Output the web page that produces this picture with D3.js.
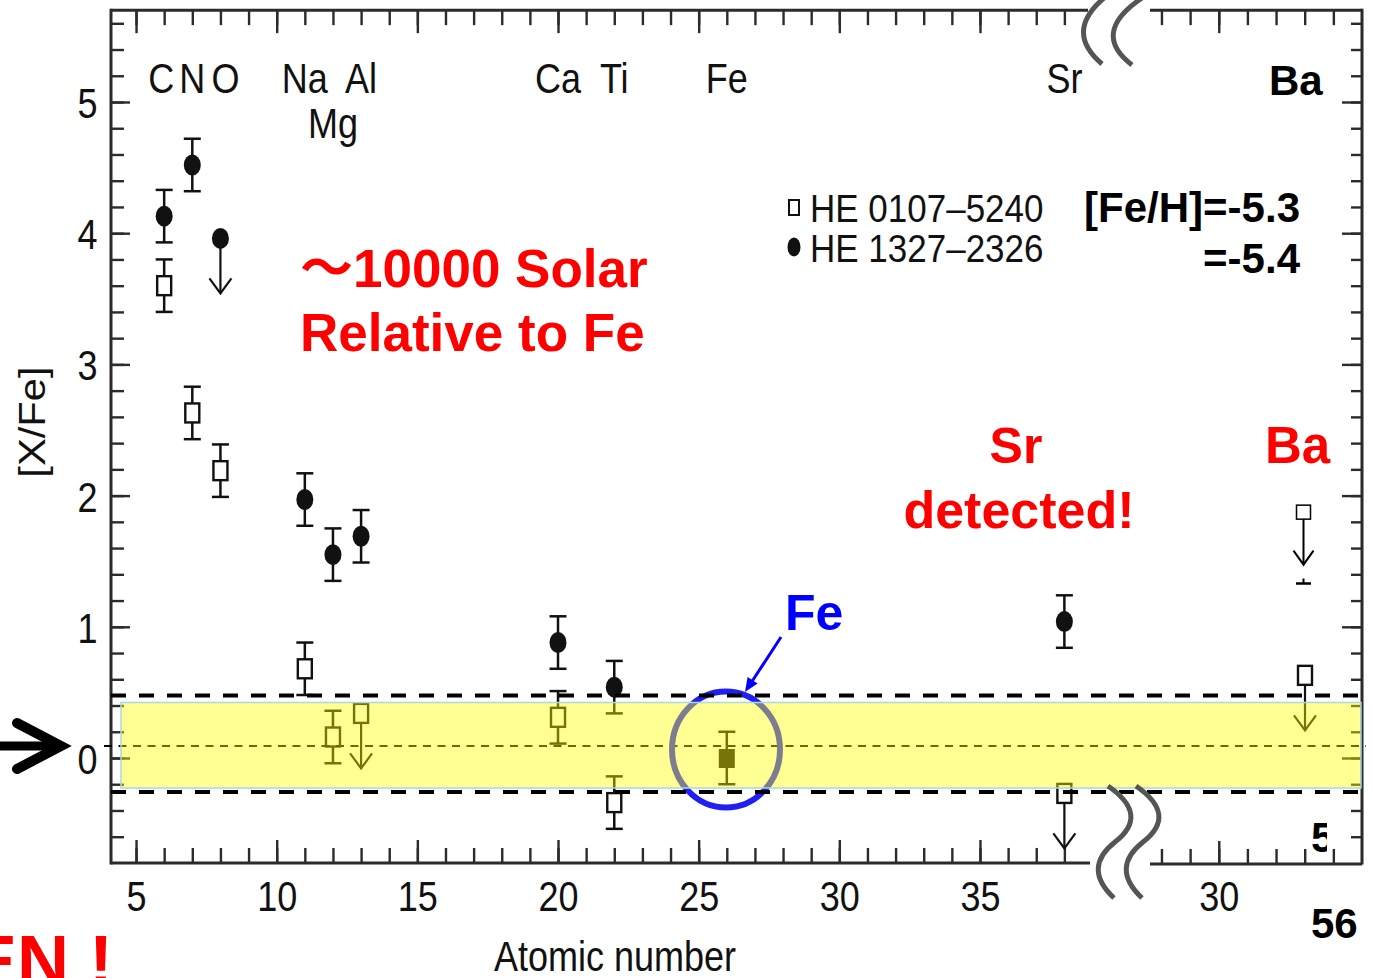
<!DOCTYPE html>
<html>
<head>
<meta charset="utf-8">
<script src="https://cdn.jsdelivr.net/npm/d3@7"></script>
<style>
  html, body { margin: 0; padding: 0; background: #fff; }
  svg { display: block; }
</style>
</head>
<body>
<svg id="chart" width="1373" height="978"></svg>
<script>
// ---- Abundance pattern data ([X/Fe] vs atomic number) ----

// element labels along the top of the frame
const labelNames = ["C", "N", "O", "Na", "Mg", "Al", "Ca", "Ti", "Fe", "Sr"];
const labelZ     = [6, 7, 8, 11, 12, 13, 20, 22, 26, 38];
const labelRow   = [0, 0, 0, 0, 1, 0, 0, 0, 0, 0];

// HE 0107-5240 (open squares)
const he0107Z     = [6, 7, 8, 11, 12, 13, 20, 22, 38, 56];
const he0107Value = [3.60, 2.63, 2.19, 0.68, 0.16, 0.34, 0.31, -0.34, -0.27, 0.63];
const he0107Err   = [0.2, 0.2, 0.2, 0.2, 0.2, 0, 0.2, 0.2, 0, 0];
const he0107Limit = [false, false, false, false, false, true, false, false, true, true];

// HE 1327-2326 (filled circles)
const he1327Z     = [6, 7, 8, 11, 12, 13, 20, 22, 38];
const he1327Value = [4.13, 4.52, 3.96, 1.97, 1.55, 1.69, 0.88, 0.54, 1.04];
const he1327Err   = [0.2, 0.2, 0, 0.2, 0.2, 0.2, 0.2, 0.2, 0.2];
const he1327Limit = [false, false, true, false, false, false, false, false, false];

// iron reference point
const feZ = [26];
const feValue = [0.0];
const feErr = [0.2];

// second Ba upper limit and the lower cap of its bar
const baExtraZ = [56];
const baExtraValue = [1.87];
const baExtraCap = [1.33];

// axis ticks
const xMinorTicks = d3.range(5, 39);
const xMajorTicks = [5, 10, 15, 20, 25, 30, 35];
const yMinorTicks = d3.range(-3, 29).map(i => +(i * 0.2).toFixed(1));
const yMajorTicks = [0, 1, 2, 3, 4, 5];
const breakMinorTicks = [28, 29, 30, 31, 32, 33, 34];
const breakMajorTicks = [30];

// ---- scales ----
const xL = d3.scaleLinear().domain([4.11, 38.84]).range([111, 1088]);
const xR = d3.scaleLinear().domain([27.6, 35]).range([1150, 1362]);
const xBa = d3.scaleLinear().domain([55, 57]).range([1276.5, 1333.5]);
const y = d3.scaleLinear().domain([0, 5]).range([758, 102]);
const xOf = z => (z > 40 ? xBa(z) : xL(z));

const X0 = 111, X1 = 1362, Y0 = y(5.7), Y1 = y(-0.8);

const svg = d3.select("#chart");
const ink = "#111";
const axisInk = "#2b2b2b";
const FIG_FONT = "'Liberation Sans', Arial, Helvetica, sans-serif";
const SLIDE_FONT = "'Liberation Sans', Arial, 'Noto Sans CJK JP', sans-serif";
const STRETCH = "scale(1,1.16)";

svg.append("rect").attr("width", 1373).attr("height", 978).attr("fill", "#fff");

// ---- axes ----
function tidy(g, width) {
  g.select(".domain").remove();
  g.selectAll(".tick line").attr("stroke", axisInk).attr("stroke-width", width || 2.4);
  return g;
}

// bottom (left part)
svg.append("g").attr("transform", `translate(0,${Y1})`)
  .call(d3.axisTop(xL).tickValues(xMinorTicks).tickSize(15).tickFormat(""))
  .call(tidy);
const xAxisMain = svg.append("g").attr("transform", `translate(0,${Y1})`)
  .call(d3.axisTop(xL).tickValues(xMajorTicks).tickSize(23).tickFormat(d3.format("d")))
  .call(tidy);
xAxisMain.selectAll(".tick text")
  .attr("y", 0).attr("dy", 0)
  .attr("transform", `translate(0,48) ${STRETCH}`)
  .attr("text-anchor", "middle")
  .attr("fill", ink).attr("font-size", 36).attr("font-family", FIG_FONT);

// top (left part)
svg.append("g").attr("transform", `translate(0,${Y0})`)
  .call(d3.axisBottom(xL).tickValues(xMinorTicks).tickSize(15).tickFormat(""))
  .call(tidy);
svg.append("g").attr("transform", `translate(0,${Y0})`)
  .call(d3.axisBottom(xL).tickValues(xMajorTicks.filter(v => v < 38)).tickSize(23).tickFormat(""))
  .call(tidy);

// bottom and top (right part, after the break)
svg.append("g").attr("transform", `translate(0,${Y1 + 1})`)
  .call(d3.axisTop(xR).tickValues(breakMinorTicks).tickSize(15).tickFormat(""))
  .call(tidy);
const xAxisBreak = svg.append("g").attr("transform", `translate(0,${Y1 + 1})`)
  .call(d3.axisTop(xR).tickValues(breakMajorTicks).tickSize(23).tickFormat(d3.format("d")))
  .call(tidy);
xAxisBreak.selectAll(".tick text")
  .attr("y", 0).attr("dy", 0)
  .attr("transform", `translate(0,47) ${STRETCH}`)
  .attr("text-anchor", "middle")
  .attr("fill", ink).attr("font-size", 36).attr("font-family", FIG_FONT);
svg.append("g").attr("transform", `translate(0,${Y0})`)
  .call(d3.axisBottom(xR).tickValues(breakMinorTicks).tickSize(15).tickFormat(""))
  .call(tidy);
svg.append("g").attr("transform", `translate(0,${Y0})`)
  .call(d3.axisBottom(xR).tickValues(breakMajorTicks).tickSize(23).tickFormat(""))
  .call(tidy);

// left
svg.append("g").attr("transform", `translate(${X0},0)`)
  .call(d3.axisRight(y).tickValues(yMinorTicks).tickSize(13).tickFormat(""))
  .call(tidy);
const yAxisMain = svg.append("g").attr("transform", `translate(${X0},0)`)
  .call(d3.axisRight(y).tickValues(yMajorTicks).tickSize(19).tickFormat(d3.format("d")))
  .call(tidy);
yAxisMain.selectAll(".tick text")
  .attr("x", 0).attr("dy", 0)
  .attr("transform", `translate(-13.5,15.5) ${STRETCH}`)
  .attr("text-anchor", "end")
  .attr("fill", ink).attr("font-size", 36).attr("font-family", FIG_FONT);

// right
svg.append("g").attr("transform", `translate(${X1},0)`)
  .call(d3.axisLeft(y).tickValues(yMinorTicks).tickSize(11).tickFormat(""))
  .call(tidy);
svg.append("g").attr("transform", `translate(${X1},0)`)
  .call(d3.axisLeft(y).tickValues(yMajorTicks).tickSize(20).tickFormat(""))
  .call(tidy);

// frame, interrupted at the axis break
const frame = svg.append("g").attr("stroke", axisInk).attr("stroke-width", 3).attr("fill", "none");
frame.append("line").attr("x1", X0).attr("x2", X0).attr("y1", Y0 - 1.5).attr("y2", Y1 + 1.5);
frame.append("line").attr("x1", X1).attr("x2", X1).attr("y1", Y0 - 1.5).attr("y2", Y1 + 1.5);
frame.append("line").attr("x1", X0).attr("x2", 1088).attr("y1", Y0).attr("y2", Y0);
frame.append("line").attr("x1", 1150).attr("x2", X1).attr("y1", Y0).attr("y2", Y0);
frame.append("line").attr("x1", X0).attr("x2", 1090).attr("y1", Y1).attr("y2", Y1);
frame.append("line").attr("x1", 1150).attr("x2", X1).attr("y1", Y1 + 1).attr("y2", Y1 + 1);

// axis titles
svg.append("text")
  .attr("transform", `translate(615,971) ${STRETCH}`)
  .attr("text-anchor", "middle").attr("fill", ink)
  .attr("font-size", 36).attr("font-family", FIG_FONT)
  .text("Atomic number");
svg.append("text")
  .attr("transform", `translate(44.5,422) ${STRETCH} rotate(-90)`)
  .attr("text-anchor", "middle").attr("fill", ink)
  .attr("font-size", 36).attr("font-family", FIG_FONT)
  .text("[X/Fe]");

// element labels (C and O sit slightly outward of their columns)
const labelShift = { C: -3, O: 5 };
svg.append("g").selectAll("text")
  .data(labelNames)
  .join("text")
  .attr("transform", (d, i) =>
    `translate(${xL(labelZ[i]) + (labelShift[d] || 0)},${labelRow[i] ? 138 : 93}) ${STRETCH}`)
  .attr("text-anchor", "middle").attr("fill", ink)
  .attr("font-size", 36).attr("font-family", FIG_FONT)
  .text(d => d);

// legend
const legend = svg.append("g");
legend.append("rect").attr("x", 789).attr("y", 200).attr("width", 10).attr("height", 15)
  .attr("fill", "#fff").attr("stroke", ink).attr("stroke-width", 2);
legend.append("ellipse").attr("cx", 794).attr("cy", 247).attr("rx", 6.5).attr("ry", 9.5).attr("fill", ink);
legend.selectAll("text")
  .data(["HE 0107\u20135240", "HE 1327\u20132326"])
  .join("text")
  .attr("transform", (d, i) => `translate(810,${i ? 262 : 222}) scale(1,1.1)`)
  .attr("fill", ink).attr("font-size", 35).attr("font-family", FIG_FONT)
  .text(d => d);

// ---- data marks ----
const LIMIT_LEN = 55, CAP = 8.5;
const openPts = he0107Z.map((z, i) => ({ z, v: he0107Value[i], e: he0107Err[i], lim: he0107Limit[i] }));
const filledPts = he1327Z.map((z, i) => ({ z, v: he1327Value[i], e: he1327Err[i], lim: he1327Limit[i] }));
const fePts = feZ.map((z, i) => ({ z, v: feValue[i], e: feErr[i], lim: false }));

const marks = svg.append("g").attr("stroke", ink).attr("fill", "none");

function drawBars(pts) {
  const bars = pts.filter(d => d.e > 0);
  const gb = marks.append("g").attr("stroke-width", 2.5);
  gb.selectAll(".stem").data(bars).join("line")
    .attr("x1", d => xOf(d.z)).attr("x2", d => xOf(d.z))
    .attr("y1", d => y(d.v + d.e)).attr("y2", d => y(d.v - d.e));
  gb.selectAll(".capT").data(bars).join("line").attr("class", "capT")
    .attr("x1", d => xOf(d.z) - CAP).attr("x2", d => xOf(d.z) + CAP)
    .attr("y1", d => y(d.v + d.e)).attr("y2", d => y(d.v + d.e));
  gb.selectAll(".capB").data(bars).join("line").attr("class", "capB")
    .attr("x1", d => xOf(d.z) - CAP).attr("x2", d => xOf(d.z) + CAP)
    .attr("y1", d => y(d.v - d.e)).attr("y2", d => y(d.v - d.e));

  const lims = pts.filter(d => d.lim);
  const gl = marks.append("g").attr("stroke-width", 2.2).attr("stroke-linejoin", "miter");
  gl.selectAll("line").data(lims).join("line")
    .attr("x1", d => xOf(d.z)).attr("x2", d => xOf(d.z))
    .attr("y1", d => y(d.v)).attr("y2", d => y(d.v) + LIMIT_LEN);
  gl.selectAll("path").data(lims).join("path")
    .attr("d", d => {
      const x = xOf(d.z), t = y(d.v) + LIMIT_LEN;
      return `M${x - 11},${t - 15} L${x},${t} L${x + 11},${t - 15}`;
    });
}
drawBars(openPts);
drawBars(filledPts);
drawBars(fePts);

marks.append("g").selectAll("rect").data(openPts).join("rect")
  .attr("x", d => xOf(d.z) - 7).attr("y", d => y(d.v) - 9.5)
  .attr("width", 14).attr("height", 19)
  .attr("fill", "#fff").attr("stroke-width", 2.4);
marks.append("g").selectAll("ellipse").data(filledPts).join("ellipse")
  .attr("cx", d => xOf(d.z)).attr("cy", d => y(d.v))
  .attr("rx", 8.5).attr("ry", 10.5).attr("fill", ink).attr("stroke", "none");
marks.append("g").selectAll("rect").data(fePts).join("rect")
  .attr("x", d => xOf(d.z) - 8).attr("y", d => y(d.v) - 9)
  .attr("width", 16).attr("height", 19).attr("fill", ink).attr("stroke", "none");

// second Ba upper limit
const baG = marks.append("g").attr("stroke", "#000");
baExtraZ.forEach((z, i) => {
  const x = xOf(z) - 1.5, yy = y(baExtraValue[i]), tip = yy + 52, cap = y(baExtraCap[i]);
  baG.append("line").attr("x1", x).attr("x2", x).attr("y1", yy).attr("y2", tip).attr("stroke-width", 2);
  baG.append("path").attr("d", `M${x - 10},${tip - 14} L${x},${tip} L${x + 10},${tip - 14}`).attr("stroke-width", 2);
  baG.append("rect").attr("x", x - 7).attr("y", yy - 7.5).attr("width", 14).attr("height", 14)
    .attr("fill", "#fff").attr("stroke-width", 1.5);
  baG.append("line").attr("x1", x - 7.5).attr("x2", x + 7.5).attr("y1", cap).attr("y2", cap).attr("stroke-width", 2.5);
  baG.append("line").attr("x1", x).attr("x2", x).attr("y1", cap - 5).attr("y2", cap).attr("stroke-width", 2);
});

// ---- overlay annotations ----
// dashed zero guide
svg.append("line").attr("x1", 104).attr("x2", 1366).attr("y1", 746).attr("y2", 746)
  .attr("stroke", "#000").attr("stroke-width", 1.8).attr("stroke-dasharray", "8,6.5");

// circle around Fe
svg.append("ellipse").attr("cx", 726).attr("cy", 749.5).attr("rx", 54).attr("ry", 58)
  .attr("fill", "none").attr("stroke", "#2020f5").attr("stroke-width", 6);

// highlighted band
svg.append("rect").attr("x", 121).attr("y", 702.5).attr("width", 1240).attr("height", 85.5)
  .attr("fill", "rgba(255,255,0,0.42)").attr("stroke", "#a9d8e6").attr("stroke-width", 1.5);

// band limits
svg.append("line").attr("x1", 111).attr("x2", 1362).attr("y1", 695.5).attr("y2", 695.5)
  .attr("stroke", "#000").attr("stroke-width", 4).attr("stroke-dasharray", "15,13");
svg.append("line").attr("x1", 111).attr("x2", 1360).attr("y1", 792).attr("y2", 792)
  .attr("stroke", "#000").attr("stroke-width", 4).attr("stroke-dasharray", "15,13");

// axis break marks
const brk = svg.append("g").attr("fill", "none").attr("stroke", "#555").attr("stroke-width", 5);
brk.append("path").attr("d", "M1104,-2 Q1064,32 1102,64");
brk.append("path").attr("d", "M1142,-2 Q1090,33 1132,65");
brk.append("path").attr("d", "M1108,786 Q1150,815 1115,842 Q1082,868 1114,898");
brk.append("path").attr("d", "M1136,786 Q1178,815 1143,842 Q1110,868 1142,898");

// pointer at zero
const ptr = svg.append("g").attr("stroke", "#000").attr("fill", "none").attr("stroke-linecap", "round");
ptr.append("line").attr("x1", -5).attr("x2", 58).attr("y1", 746).attr("y2", 746).attr("stroke-width", 9);
ptr.append("path").attr("d", "M17,723 L61,746 L17,769").attr("stroke-width", 10).attr("stroke-linejoin", "miter");

// blue pointer to Fe
svg.append("line").attr("x1", 781).attr("y1", 637).attr("x2", 751).attr("y2", 683)
  .attr("stroke", "#0000ff").attr("stroke-width", 3);
svg.append("path").attr("d", "M745,692 L757.6,683.6 L747.6,677 Z").attr("fill", "#0000ff");

// slide texts
const slide = svg.append("g").attr("font-family", SLIDE_FONT).attr("font-weight", "bold");
slide.append("text").attr("x", 300).attr("y", 287).attr("font-size", 53).attr("fill", "#ff0000")
  .text("\uFF5E10000 Solar");
slide.append("text").attr("x", 300).attr("y", 351).attr("font-size", 53).attr("fill", "#ff0000")
  .text("Relative to Fe");
slide.append("text").attr("x", 1016).attr("y", 463).attr("font-size", 50).attr("fill", "#ff0000")
  .attr("text-anchor", "middle").text("Sr");
slide.append("text").attr("x", 1019).attr("y", 528).attr("font-size", 52).attr("fill", "#ff0000")
  .attr("text-anchor", "middle").text("detected!");
slide.append("text").attr("x", 1265).attr("y", 463).attr("font-size", 51).attr("fill", "#ff0000")
  .text("Ba");
slide.append("text").attr("x", 785).attr("y", 630).attr("font-size", 50).attr("fill", "#0000ff")
  .text("Fe");
slide.append("text").attr("x", 1269).attr("y", 95).attr("font-size", 42).attr("fill", "#000")
  .text("Ba");
slide.append("text").attr("x", 1300).attr("y", 222).attr("font-size", 42).attr("fill", "#000")
  .attr("text-anchor", "end").text("[Fe/H]=-5.3");
slide.append("text").attr("x", 1300).attr("y", 273).attr("font-size", 42).attr("fill", "#000")
  .attr("text-anchor", "end").text("=-5.4");
slide.append("text").attr("x", 1311).attr("y", 938).attr("font-size", 42).attr("fill", "#000")
  .text("56");
svg.append("clipPath").attr("id", "zclip")
  .append("rect").attr("x", 1300).attr("y", 800).attr("width", 27).attr("height", 60);
slide.append("text").attr("x", 1311).attr("y", 852).attr("font-size", 42).attr("fill", "#000")
  .attr("clip-path", "url(#zclip)").text("56");
slide.append("text").attr("x", 113).attr("y", 986).attr("font-size", 72).attr("fill", "#ff0000")
  .attr("text-anchor", "end").text("EN !");
</script>
</body>
</html>
